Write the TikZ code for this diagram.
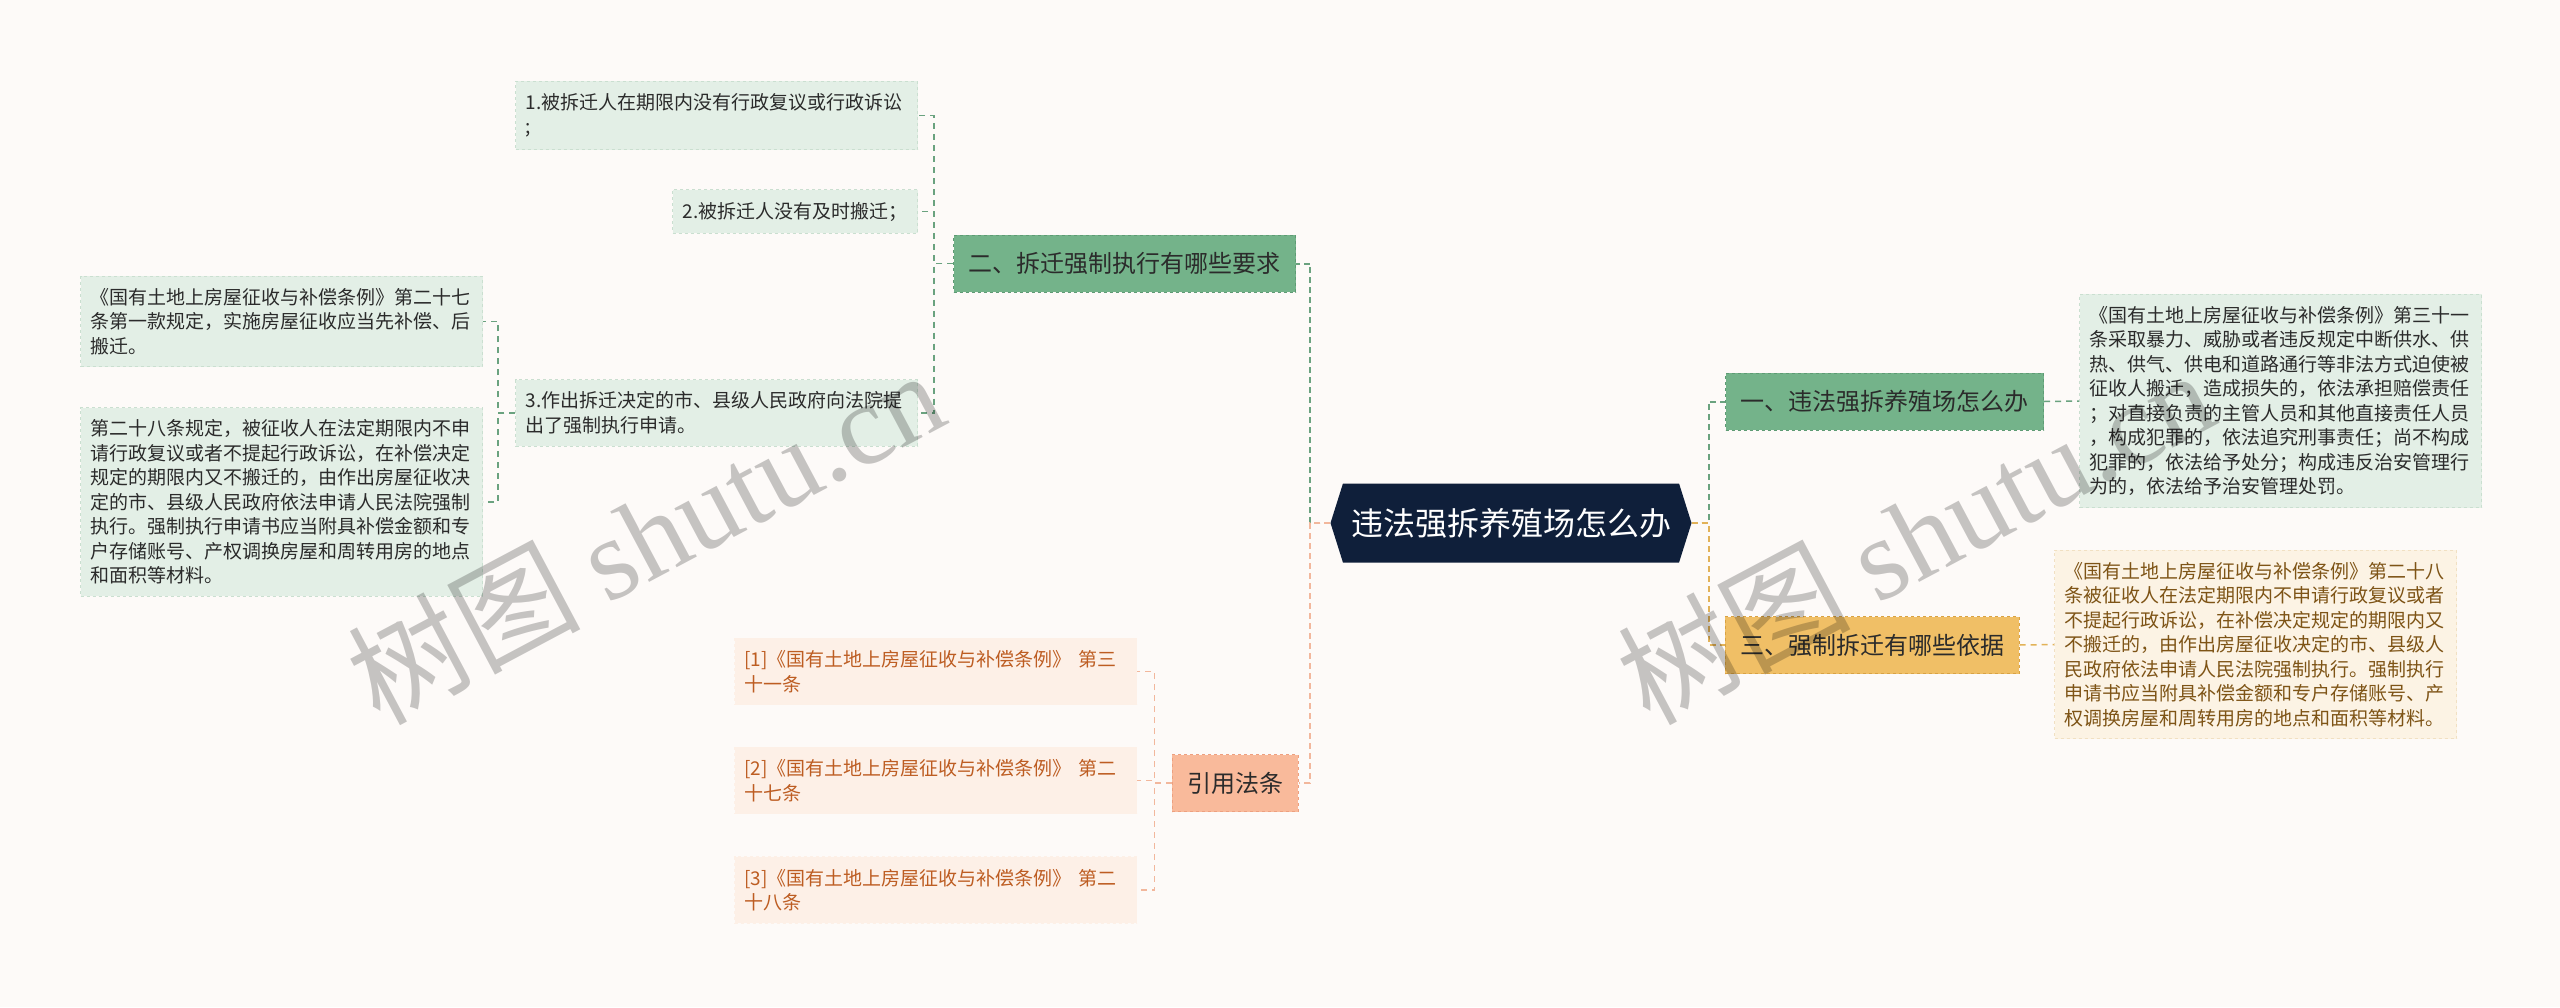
\documentclass[tikz,border=0pt]{standalone}
\usepackage{fontspec}
\usetikzlibrary{shapes.symbols}
\newfontfamily\cjk{Noto Sans CJK SC}
\newfontfamily\wmserif{Liberation Serif}
\definecolor{pagebg}{HTML}{FDFAF8}
\definecolor{rootnavy}{HTML}{0F1F3A}
\definecolor{greenfill}{HTML}{74B38A}
\definecolor{greendark}{HTML}{5E9B74}
\definecolor{greenleaf}{HTML}{E3EFE6}
\definecolor{greenedge}{HTML}{CADFD0}
\definecolor{greenline}{HTML}{6AA27F}
\definecolor{goldfill}{HTML}{F0BF66}
\definecolor{golddark}{HTML}{D8A244}
\definecolor{goldleaf}{HTML}{FCF3E4}
\definecolor{goldedge}{HTML}{F1E0C2}
\definecolor{goldline}{HTML}{E2B258}
\definecolor{goldtext}{HTML}{7E5416}
\definecolor{peachfill}{HTML}{F9BA9B}
\definecolor{peachdark}{HTML}{EDA080}
\definecolor{peachleaf}{HTML}{FDF0E7}
\definecolor{peachedge}{HTML}{FDF0E7}
\definecolor{peachline}{HTML}{F2B79C}
\definecolor{peachtext}{HTML}{BD5D22}
\definecolor{inktext}{HTML}{2B2B2B}
\tikzset{
  rootbox/.style={shape=signal, signal to=west and east, signal pointer angle=145,
                  fill=rootnavy, text=white, minimum width=361pt, minimum height=79pt,
                  inner xsep=6pt, font=\cjk\fontsize{32}{38}\selectfont},
  mbox/.style={rectangle, draw=#1dark, fill=#1fill, dashed, line width=1pt,
               minimum height=57pt, inner xsep=15pt, inner ysep=0pt, text=inktext,
               font=\cjk\fontsize{24}{29}\selectfont},
  mbox/.default=green,
  leaf/.style={rectangle, draw=#1edge, fill=#1leaf, dashed, line width=1pt,
               inner xsep=10pt, inner ysep=12pt, align=left, text=inktext,
               font=\cjk\fontsize{19}{24.5}\selectfont},
  leaf/.default=green,
  wide/.style={text width=382pt},
  link/.style={draw=#1, line width=2pt, dash pattern=on 6pt off 4pt},
  twig/.style={draw=#1, line width=1.5pt, dash pattern=on 6pt off 5pt},
  watermark/.style={text=black, text opacity=0.22, rotate=28,
                    font=\cjk\fontsize{116}{116}\selectfont},
}

\begin{document}
\begin{tikzpicture}[x=1pt, y=-1pt]
  % page
  \fill[pagebg] (0,0) rectangle (2560,1007);
  \useasboundingbox (0,0) rectangle (2560,1007);

  % root and main branches
  \node[rootbox] (root) at (1511,523) {违法强拆养殖场怎么办};
  \node[mbox=green] (req) at (1124.5,263.5) {二、拆迁强制执行有哪些要求};
  \node[mbox=green] (how) at (1884.5,401.5) {一、违法强拆养殖场怎么办};
  \node[mbox=gold] (basis) at (1872,645) {三、强制拆迁有哪些依据};
  \node[mbox=peach] (cite) at (1235,783) {引用法条};

  % requirements
  \node[leaf, wide, anchor=east] (req1) at (918,115.5)
    {1.被拆迁人在期限内没有行政复议或行政诉讼\\;};
  \node[leaf, anchor=east] (req2) at (918,211.5) {2.被拆迁人没有及时搬迁；};
  \node[leaf, wide, anchor=east] (req3) at (918,413)
    {3.作出拆迁决定的市、县级人民政府向法院提\\出了强制执行申请。};
  \node[leaf, wide, anchor=east] (law27) at (483,321.5)
    {《国有土地上房屋征收与补偿条例》第二十七\\条第一款规定，实施房屋征收应当先补偿、后\\搬迁。};
  \node[leaf, wide, anchor=east] (law28) at (483,502)
    {第二十八条规定，被征收人在法定期限内不申\\请行政复议或者不提起行政诉讼，在补偿决定\\规定的期限内又不搬迁的，由作出房屋征收决\\定的市、县级人民政府依法申请人民法院强制\\执行。强制执行申请书应当附具补偿金额和专\\户存储账号、产权调换房屋和周转用房的地点\\和面积等材料。};

  % right side leaves
  \node[leaf, wide, anchor=west] (howtxt) at (2079,401)
    {《国有土地上房屋征收与补偿条例》第三十一\\条采取暴力、威胁或者违反规定中断供水、供\\热、供气、供电和道路通行等非法方式迫使被\\征收人搬迁，造成损失的，依法承担赔偿责任\\；对直接负责的主管人员和其他直接责任人员\\，构成犯罪的，依法追究刑事责任；尚不构成\\犯罪的，依法给予处分；构成违反治安管理行\\为的，依法给予治安管理处罚。};
  \node[leaf=gold, wide, anchor=west, text=goldtext] (basistxt) at (2054,644.5)
    {《国有土地上房屋征收与补偿条例》第二十八\\条被征收人在法定期限内不申请行政复议或者\\不提起行政诉讼，在补偿决定规定的期限内又\\不搬迁的，由作出房屋征收决定的市、县级人\\民政府依法申请人民法院强制执行。强制执行\\申请书应当附具补偿金额和专户存储账号、产\\权调换房屋和周转用房的地点和面积等材料。};

  % cited articles
  \node[leaf=peach, wide, anchor=east, text=peachtext] (art31) at (1137,671.5)
    {[1]《国有土地上房屋征收与补偿条例》 第三\\十一条};
  \node[leaf=peach, wide, anchor=east, text=peachtext] (art27) at (1137,780.5)
    {[2]《国有土地上房屋征收与补偿条例》 第二\\十七条};
  \node[leaf=peach, wide, anchor=east, text=peachtext] (art28) at (1137,890)
    {[3]《国有土地上房屋征收与补偿条例》 第二\\十八条};

  % links from root
  \draw[link=greenline] (root.west) -- ++(-20,0) |- (req.east);
  \draw[link=peachline] (root.west) -- ++(-20,0) |- (cite.east);
  \draw[link=greenline] (root.east) -- ++(17,0) |- (how.west);
  \draw[link=goldline] (root.east) -- ++(17,0) |- (basis.west);

  % links to leaves
  \draw[twig=greenline] (req.west) -- ++(-19,0) |- (req1.east);
  \draw[twig=greenline] (req.west) -- ++(-19,0) |- (req2.east);
  \draw[twig=greenline] (req.west) -- ++(-19,0) |- (req3.east);
  \draw[twig=greenline] (req3.west) -- ++(-17,0) |- (law27.east);
  \draw[twig=greenline] (req3.west) -- ++(-17,0) |- (law28.east);
  \draw[twig=greenline] (how.east) -- (howtxt.west);
  \draw[twig=goldline] (basis.east) -- (basistxt.west);
  \foreach \art in {art31, art27, art28}
    \draw[twig=peachline] (cite.west) -- ++(-17,0) |- (\art.east);

  % watermark
  \node[watermark] (wmleft) at (645,535) {树图 {\wmserif shutu.cn}};
  \node[watermark] (wmright) at (1915,535) {树图 {\wmserif shutu.cn}};
\end{tikzpicture}
\end{document}
